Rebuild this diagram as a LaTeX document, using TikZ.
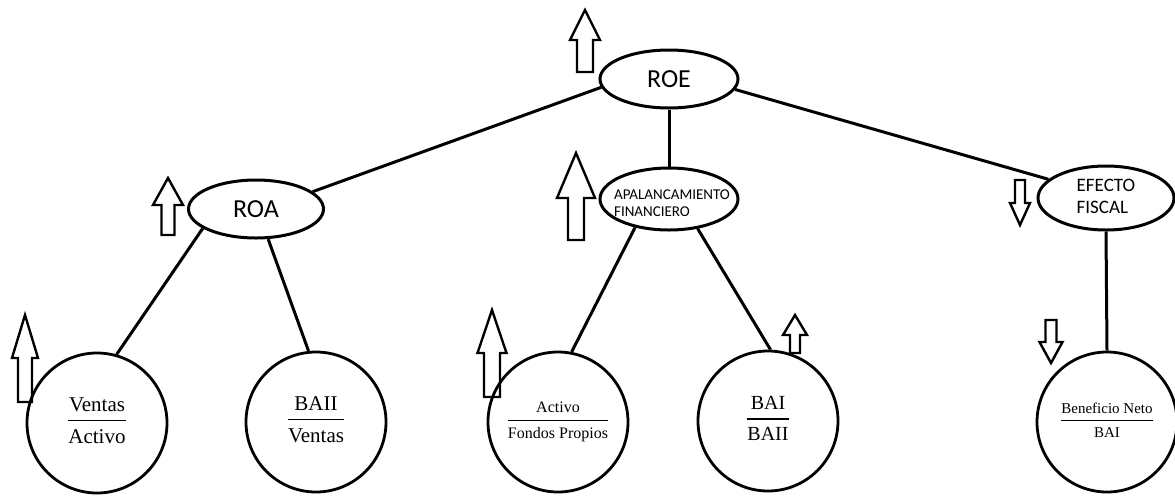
\documentclass[tikz,border=0pt]{standalone}
\usepackage{fontspec}
\setmainfont{Liberation Serif}
\newfontfamily\labelfont{Carlito}
\usetikzlibrary{shapes.geometric}
\setlength{\arrayrulewidth}{1.4pt}
\newcommand{\ratio}[2]{\begin{tabular}{@{}c@{}}#1\\[2pt]\hline\rule{0pt}{1.05em}#2\end{tabular}}
% x, tip y, head half width, head base y, shaft half width, tail y
\newcommand{\blockarrow}[6]{%
  \draw[trendarrow] (#1-#5,#6) -- (#1-#5,#4) -- (#1-#3,#4) -- (#1,#2)
    -- (#1+#3,#4) -- (#1+#5,#4) -- (#1+#5,#6) -- cycle;}

\tikzset{
  ovalnode/.style={ellipse, draw, line width=3pt, inner sep=0pt},
  ovallabel/.style={font=\labelfont, inner sep=0pt, align=left},
  ratiocircle/.style={circle, draw, line width=2.8pt, minimum size=140pt, inner sep=0pt},
  treeedge/.style={line width=3pt},
  trendarrow/.style={line width=2.4pt, line join=miter}
}

\begin{document}
\begin{tikzpicture}[x=1pt, y=-1pt]
\useasboundingbox (0,0) rectangle (1175,496);

% top level
\node[ovalnode, minimum width=138pt, minimum height=58pt] (roe) at (669,79) {};
\node[ovallabel, font=\labelfont\fontsize{26}{28}\selectfont] (roetext) at (roe) {ROE};

% second level
\node[ovalnode, minimum width=135pt, minimum height=58pt] (roa) at (256,209) {};
\node[ovallabel, font=\labelfont\fontsize{26}{28}\selectfont] (roatext) at (roa) {ROA};

\node[ovalnode, minimum width=138pt, minimum height=62pt] (apal) at (669,199) {};
\node[ovallabel, font=\labelfont\fontsize{15}{17}\selectfont] (apaltext) at (672,203) {APALANCAMIENTO\\FINANCIERO};

\node[ovalnode, minimum width=136pt, minimum height=64pt] (efecto) at (1106,198) {};
\node[ovallabel, font=\labelfont\fontsize{19}{22}\selectfont] (efectotext) at (1106,196) {EFECTO\\FISCAL};

% ratios
\node[ratiocircle, font=\fontsize{21}{22}\selectfont] (ventas) at (97,423) {\ratio{Ventas}{Activo}};
\node[ratiocircle, font=\fontsize{21}{22}\selectfont] (baii) at (316,422) {\ratio{BAII}{Ventas}};
\node[ratiocircle, font=\fontsize{16}{17}\selectfont] (activo) at (558,422) {\ratio{Activo}{Fondos Propios}};
\node[ratiocircle, font=\fontsize{20}{21}\selectfont] (bai) at (768,421) {\ratio{BAI}{BAII}};
\node[ratiocircle, font=\fontsize{15}{16}\selectfont] (benef) at (1107,422) {\ratio{Beneficio Neto}{BAI}};

% edges
\draw[treeedge] (roe.187) -- (roa.17);
\draw[treeedge] (roe.south) -- (apal.north);
\draw[treeedge] (roe.351) -- (efecto.162);

\draw[treeedge] (roa.200) -- (ventas.74);
\draw[treeedge] (roa.292) -- (baii.96);

\draw[treeedge] (apal.220) -- (activo.79);
\draw[treeedge] (apal.314) -- (bai.88);

\draw[treeedge] (efecto.south) -- (benef.north);

% trend arrows
\blockarrow{585}{10}{15}{40}{8}{72}
\blockarrow{168}{178}{15}{205}{6.5}{235}
\blockarrow{576}{153}{19}{198}{8}{240}
\blockarrow{1020}{225}{10}{203}{5}{180}
\blockarrow{25}{315}{13}{358}{7}{402}
\blockarrow{492}{310}{14.5}{353}{8}{397}
\blockarrow{795}{315}{12}{335}{5}{353}
\blockarrow{1051}{363}{11.5}{342}{5.5}{320}
\end{tikzpicture}
\end{document}
